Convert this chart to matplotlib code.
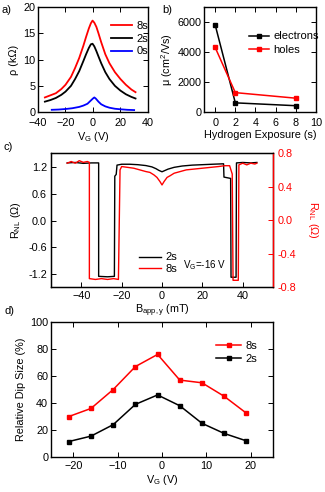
import matplotlib
matplotlib.use('Agg')
import matplotlib.pyplot as plt
from matplotlib.ticker import FormatStrFormatter

plt.rcParams['font.family'] = ['Liberation Sans', 'DejaVu Sans']
plt.rcParams['font.size'] = 7.8
plt.rcParams['mathtext.fontset'] = 'custom'
plt.rcParams['mathtext.rm'] = 'Liberation Sans'
plt.rcParams['mathtext.it'] = 'Liberation Sans'

# a) resistivity vs gate voltage
vg_8s = [-35, -31, -27, -23, -20, -16, -13, -10, -7, -5, -3, -1.5, -0.3, 1, 2.5, 4, 6, 9, 12, 16, 20, 24, 28, 31]
rho_8s = [2.8, 3.2, 3.6, 4.4, 5.2, 6.7, 8.4, 10.3, 12.6, 14.3, 15.9, 16.9, 17.4, 17.0, 16.2, 15.0, 13.3, 11.0, 9.3, 7.6, 6.3, 5.2, 4.3, 3.8]
vg_2s = [-35, -31, -27, -23, -20, -16, -13, -10, -7, -5, -3, -1.5, -0.3, 1, 2.5, 4, 6, 9, 12, 16, 20, 24, 28, 31]
rho_2s = [2.0, 2.3, 2.7, 3.3, 3.9, 5.0, 6.3, 7.8, 9.7, 11.0, 12.2, 12.9, 13.0, 12.5, 11.6, 10.6, 9.3, 7.6, 6.3, 5.0, 4.1, 3.4, 2.9, 2.6]
vg_0s = [-30, -25, -20, -15, -10, -7, -4, -2, 0, 1, 2, 4, 6, 9, 12, 16, 20, 25, 30]
rho_0s = [0.45, 0.5, 0.6, 0.75, 1.0, 1.25, 1.6, 2.1, 2.6, 2.8, 2.6, 2.0, 1.5, 1.1, 0.85, 0.65, 0.55, 0.45, 0.4]

# b) mobility vs hydrogen exposure
exposure = [0, 2, 8]
mu_electrons = [5800, 620, 430]
mu_holes = [4300, 1300, 930]

# c) nonlocal spin valve, VG = -16 V
b_2s = [-47, -43, -39, -35, -31.4, -31.4, -27, -23.6, -23.4, -22.7, -22.3, -20, -16, -12, -8, -5, -3, -1.5, 0, 1.5, 3,
        6, 10, 15, 20, 25, 30.5, 30.7, 34.0, 34.2, 36.7, 36.9, 40, 44, 47]
r_2s = [1.30, 1.31, 1.29, 1.30, 1.30, -1.26, -1.27, -1.26, 1.00, 1.04, 1.25, 1.27, 1.27, 1.26, 1.24, 1.21, 1.17, 1.13, 1.10,
        1.13, 1.16, 1.20, 1.23, 1.25, 1.26, 1.27, 1.28, 0.98, 0.95, -1.28, -1.28, 1.30, 1.31, 1.30, 1.31]
b_8s = [-47, -45, -43, -41, -39, -37, -36, -36, -33, -30, -27, -24, -21.6, -20.8, -20, -17, -14, -11, -8, -6, -4, -2.5,
        -1, 0, 1, 2.5, 4, 6, 9, 12, 16, 20, 24, 28, 31, 33.5, 34.8, 35.2, 37.8, 38.1, 40, 42, 44, 46, 47]
r_8s = [0.68, 0.70, 0.68, 0.71, 0.69, 0.70, 0.69, -0.70, -0.71, -0.70, -0.71, -0.70, -0.71, 0.60, 0.64, 0.63, 0.62, 0.60,
        0.58, 0.57, 0.54, 0.51, 0.46, 0.42, 0.46, 0.51, 0.53, 0.56, 0.58, 0.60, 0.61, 0.62, 0.63, 0.64, 0.65, 0.65, 0.55,
        -0.72, -0.72, 0.66, 0.68, 0.66, 0.68, 0.67, 0.68]

# d) relative dip size vs gate voltage
vg_dip = [-21, -16, -11, -6, -1, 4, 9, 14, 19]
dip_8s = [30, 36, 50, 67, 76, 57, 55, 45, 32.5]
dip_2s = [11.5, 15.5, 24, 39, 46, 38, 25, 17.5, 12]

red = '#ff0000'
fig = plt.figure(figsize=(3.25, 4.92), dpi=100)


def style(ax, top=True, right=True):
    ax.tick_params(direction='in', length=3.5, width=0.7, top=top, right=right, pad=2)
    for s in ax.spines.values():
        s.set_linewidth(1.0)


# panel a
ax_a = fig.add_axes([0.117, 0.772, 0.338, 0.214])
ax_a.plot(vg_8s, rho_8s, color=red, lw=1.3, label='8s')
ax_a.plot(vg_2s, rho_2s, color='black', lw=1.3, label='2s')
ax_a.plot(vg_0s, rho_0s, color='#0000ff', lw=1.3, label='0s')
ax_a.set_xlim(-40, 40)
ax_a.set_ylim(0, 20)
ax_a.set_xticks([-40, -20, 0, 20, 40])
ax_a.set_yticks([0, 5, 10, 15, 20])
ax_a.set_xlabel('V$_G$ (V)', labelpad=1)
ax_a.set_ylabel('ρ (kΩ)', labelpad=3)
ax_a.legend(loc='upper left', bbox_to_anchor=(0.61, 0.92), frameon=False, borderpad=0,
            handlelength=1.9, handletextpad=0.4, labelspacing=0.25, fontsize=8)
style(ax_a)
ax_a.tick_params(axis='x', pad=4.5)
fig.text(0.006, 0.973, 'a)', fontsize=8)

# panel b
ax_b = fig.add_axes([0.628, 0.772, 0.344, 0.214])
ax_b.plot(exposure, mu_electrons, color='black', marker='s', ms=3.5, lw=1.1, label='electrons')
ax_b.plot(exposure, mu_holes, color=red, marker='s', ms=3.5, lw=1.1, label='holes')
ax_b.set_xlim(-1.1, 10)
ax_b.set_ylim(0, 7000)
ax_b.set_xticks([0, 2, 4, 6, 8, 10])
ax_b.set_yticks([0, 2000, 4000, 6000])
ax_b.set_xlabel('Hydrogen Exposure (s)', labelpad=1)
ax_b.set_ylabel('μ (cm$^2$/Vs)', labelpad=2)
ax_b.legend(loc='upper left', bbox_to_anchor=(0.35, 0.82), frameon=False, borderpad=0,
            handlelength=1.8, handletextpad=0.4, labelspacing=0.3, fontsize=8)
style(ax_b)
ax_b.tick_params(axis='x', pad=4.5)
fig.text(0.5, 0.973, 'b)', fontsize=8)

# panel c
ax_c = fig.add_axes([0.157, 0.4167, 0.683, 0.272])
ax_c2 = ax_c.twinx()
l2, = ax_c.plot(b_2s, r_2s, color='black', lw=1.0, label='2s')
l8, = ax_c2.plot(b_8s, r_8s, color=red, lw=1.0, label='8s')
ax_c.set_xlim(-55, 55)
ax_c.set_ylim(-1.5, 1.52)
ax_c2.set_ylim(-0.8, 0.8)
ax_c.set_xticks([-40, -20, 0, 20, 40])
ax_c.set_yticks([-1.2, -0.6, 0.0, 0.6, 1.2])
ax_c2.set_yticks([-0.8, -0.4, 0.0, 0.4, 0.8])
ax_c.yaxis.set_major_formatter(FormatStrFormatter('%.1f'))
ax_c2.yaxis.set_major_formatter(FormatStrFormatter('%.1f'))
ax_c.set_xlabel('B$_{app,y}$ (mT)', labelpad=1)
ax_c.set_ylabel('R$_{NL}$ (Ω)', labelpad=4)
ax_c2.set_ylabel('R$_{NL}$ (Ω)', color=red, rotation=270, labelpad=17)
ax_c.tick_params(direction='in', length=3.5, width=0.7, top=False, right=False, pad=3)
ax_c2.tick_params(direction='in', length=3.5, width=0.7, colors=red, pad=3)
for s in ax_c.spines.values():
    s.set_linewidth(1.0)
ax_c2.spines['right'].set_color(red)
ax_c2.spines['right'].set_linewidth(1.0)
ax_c.legend([l2, l8], ['2s', '8s'], loc='upper left', bbox_to_anchor=(0.37, 0.3), frameon=False,
            borderpad=0, handlelength=2.0, handletextpad=0.4, labelspacing=0.15, fontsize=8)
ax_c.text(0.595, 0.165, 'V$_G$=-16 V', transform=ax_c.transAxes, fontsize=7, va='center')
fig.text(0.01, 0.695, 'c)', fontsize=8)

# panel d
ax_d = fig.add_axes([0.157, 0.071, 0.683, 0.2745])
ax_d.plot(vg_dip, dip_8s, color=red, marker='s', ms=3.2, lw=1.1, label='8s')
ax_d.plot(vg_dip, dip_2s, color='black', marker='s', ms=3.2, lw=1.1, label='2s')
ax_d.set_xlim(-25, 25)
ax_d.set_ylim(0, 100)
ax_d.set_xticks([-20, -10, 0, 10, 20])
ax_d.set_yticks([0, 20, 40, 60, 80, 100])
ax_d.set_xlabel('V$_G$ (V)', labelpad=1)
ax_d.set_ylabel('Relative Dip Size (%)', labelpad=3)
ax_d.legend(loc='upper left', bbox_to_anchor=(0.72, 0.9), frameon=False, borderpad=0,
            handlelength=2.2, handletextpad=0.4, labelspacing=0.25, fontsize=8)
style(ax_d)
ax_d.tick_params(axis='x', pad=3)
fig.text(0.015, 0.362, 'd)', fontsize=8)

fig.savefig('out.png', dpi=100)
